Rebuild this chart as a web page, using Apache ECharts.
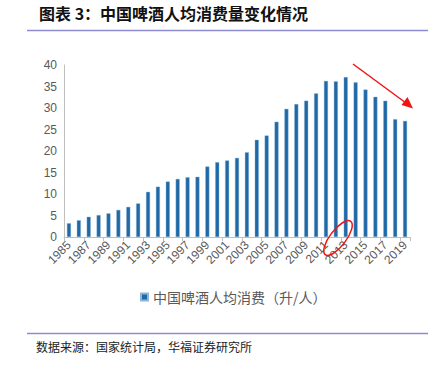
<!DOCTYPE html>
<html>
<head>
<meta charset="utf-8">
<script src="https://cdn.jsdelivr.net/npm/echarts@6/dist/echarts.min.js"></script>
<style>
  html, body { margin: 0; padding: 0; background: #fff; }
  #chart { width: 447px; height: 366px; }
</style>
</head>
<body>
<div id="chart"></div>
<script>
// years 1985 - 2019
var years = ['1985', '1986', '1987', '1988', '1989', '1990', '1991', '1992', '1993', '1994',
    '1995', '1996', '1997', '1998', '1999', '2000', '2001', '2002', '2003', '2004',
    '2005', '2006', '2007', '2008', '2009', '2010', '2011', '2012', '2013', '2014',
    '2015', '2016', '2017', '2018', '2019'];
// litres per person
var perCapita = [3.2, 3.9, 4.7, 5.1, 5.5, 6.3, 7.0, 7.8, 10.5, 11.7,
    12.9, 13.5, 13.9, 14.0, 16.4, 17.4, 17.8, 18.4, 19.7, 22.6,
    23.6, 26.8, 29.8, 30.9, 31.7, 33.4, 36.3, 36.2, 37.2, 36.0,
    34.3, 32.6, 31.7, 27.4, 27.0];
var yTicks = [0, 5, 10, 15, 20, 25, 30, 35, 40];

var cjk = '"Noto Sans CJK SC", sans-serif';
var chart = echarts.init(document.getElementById('chart'), null, {renderer: 'svg'});
chart.setOption({
    animation: false,
    backgroundColor: '#fff',
    grid: {left: 64, right: 37, top: 65, bottom: 129, containLabel: false},
    legend: {
        left: 135,
        top: 285,
        itemWidth: 7,
        itemHeight: 7,
        itemGap: 4,
        icon: 'rect',
        textStyle: {color: '#595959', fontSize: 14, fontFamily: cjk},
        data: ['中国啤酒人均消费（升/人）']
    },
    xAxis: {
        type: 'category',
        data: years,
        axisLine: {lineStyle: {color: '#bfbfbf'}},
        axisTick: {show: true, length: 4, lineStyle: {color: '#bfbfbf'}},
        axisLabel: {
            interval: 1,
            rotate: 45,
            color: '#595959',
            fontSize: 12,
            fontFamily: 'Liberation Sans, Arial, sans-serif',
            margin: 6
        }
    },
    yAxis: {
        type: 'value',
        min: yTicks[0],
        max: yTicks[yTicks.length - 1],
        interval: 5,
        splitLine: {show: false},
        axisLine: {show: true, lineStyle: {color: '#bfbfbf'}},
        axisTick: {show: false},
        axisLabel: {
            color: '#595959',
            fontSize: 12,
            fontFamily: 'Liberation Sans, Arial, sans-serif',
            margin: 7
        }
    },
    series: [{
        name: '中国啤酒人均消费（升/人）',
        type: 'bar',
        barWidth: 4,
        itemStyle: {color: '#1f69a6', borderColor: '#8fb6da', borderWidth: 0.4},
        data: perCapita
    }],
    graphic: [
        {
            type: 'text',
            left: 39,
            top: 5,
            style: {
                text: '图表 3：中国啤酒人均消费量变化情况',
                fill: '#111',
                font: 'bold 16px ' + cjk
            }
        },
        {
            type: 'line',
            shape: {x1: 27, y1: 30.5, x2: 428, y2: 30.5},
            style: {stroke: '#8c8ccf', lineWidth: 1.5}
        },
        {
            type: 'line',
            shape: {x1: 27, y1: 333.5, x2: 428, y2: 333.5},
            style: {stroke: '#8c8ccf', lineWidth: 1.5}
        },
        {
            type: 'text',
            left: 36,
            top: 340,
            style: {
                text: '数据来源：国家统计局，华福证券研究所',
                fill: '#222',
                font: '12px ' + cjk
            }
        },
        // red trend arrow
        {
            type: 'line',
            shape: {x1: 353, y1: 64, x2: 406, y2: 103},
            style: {stroke: '#f01414', lineWidth: 1.5}
        },
        {
            type: 'polygon',
            shape: {points: [[413, 108.5], [401.5, 105], [407.5, 97]]},
            style: {fill: '#f01414'}
        },
        // red circle around 2012/2013
        {
            type: 'ellipse',
            x: 338,
            y: 238,
            rotation: 0.92,
            shape: {cx: 0, cy: 0, rx: 21, ry: 8},
            style: {stroke: '#f01414', fill: 'none', lineWidth: 1.5},
            z: 100
        }
    ]
});
</script>
</body>
</html>
